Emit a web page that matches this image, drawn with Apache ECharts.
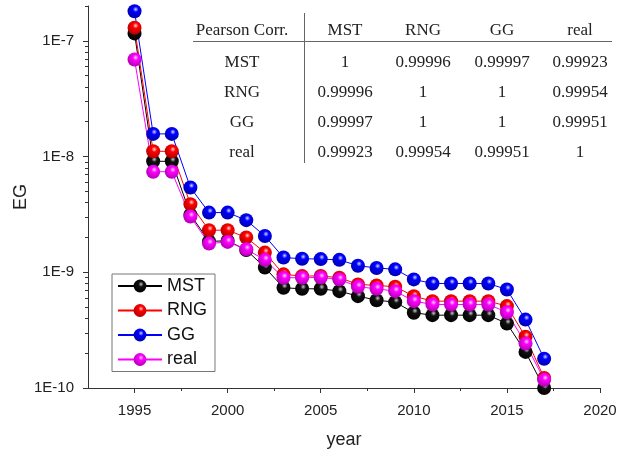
<!DOCTYPE html>
<html>
<head>
<meta charset="utf-8">
<script src="https://cdn.jsdelivr.net/npm/echarts@6/dist/echarts.min.js"></script>
<style>
  html, body { margin: 0; padding: 0; background: #fff; }
  #chart { width: 619px; height: 452px; }
</style>
</head>
<body>
<div id="chart"></div>
<script>
// Years observed
const years = [1995, 1996, 1997, 1998, 1999, 2000, 2001, 2002, 2003, 2004, 2005, 2006,
               2007, 2008, 2009, 2010, 2011, 2012, 2013, 2014, 2015, 2016, 2017];

// EG per network model
const mst  = [1.16e-7, 9.1e-9, 9.1e-9, 3.15e-9, 1.85e-9, 1.87e-9, 1.56e-9, 1.10e-9, 7.35e-10, 7.2e-10, 7.2e-10, 6.87e-10,
              6.22e-10, 5.74e-10, 5.52e-10, 4.47e-10, 4.26e-10, 4.26e-10, 4.26e-10, 4.26e-10, 3.61e-10, 2.05e-10, 1.0e-10];
const rng  = [1.30e-7, 1.11e-8, 1.11e-8, 3.88e-9, 2.31e-9, 2.31e-9, 2.0e-9, 1.48e-9, 9.6e-10, 9.27e-10, 9.3e-10, 8.98e-10,
              7.86e-10, 7.7e-10, 7.5e-10, 6.22e-10, 5.63e-10, 5.63e-10, 5.63e-10, 5.63e-10, 5.1e-10, 2.77e-10, 1.22e-10];
const gg   = [1.80e-7, 1.57e-8, 1.57e-8, 5.4e-9, 3.28e-9, 3.28e-9, 2.82e-9, 2.06e-9, 1.34e-9, 1.31e-9, 1.30e-9, 1.28e-9,
              1.14e-9, 1.09e-9, 1.06e-9, 8.68e-10, 8.0e-10, 8.0e-10, 8.0e-10, 8.0e-10, 7.1e-10, 3.9e-10, 1.79e-10];
const real = [6.9e-8, 7.4e-9, 7.4e-9, 3.03e-9, 1.77e-9, 1.83e-9, 1.58e-9, 1.28e-9, 8.98e-10, 8.98e-10, 9.0e-10, 8.68e-10,
              7.5e-10, 7.2e-10, 6.87e-10, 5.63e-10, 5.27e-10, 5.27e-10, 5.27e-10, 5.27e-10, 4.52e-10, 2.42e-10, 1.18e-10];

// Axis ticks
const xMajorTicks = [1995, 2000, 2005, 2010, 2015, 2020];
const xMinorTicks = [1997.5, 2002.5, 2007.5, 2012.5, 2017.5];
const yMajorTicks = [1e-10, 1e-9, 1e-8, 1e-7];
const yMin = 1e-10, yMax = 2e-7;

// Pearson correlation table
const corrHeader = 'Pearson Corr.';
const corrNames = ['MST', 'RNG', 'GG', 'real'];
const corrValues = [
  ['1', '0.99996', '0.99997', '0.99923'],
  ['0.99996', '1', '1', '0.99954'],
  ['0.99997', '1', '1', '0.99951'],
  ['0.99923', '0.99954', '0.99951', '1']
];

// minor log ticks (2..9 in each decade), expressed as exponents for the
// auxiliary linear tick axis that sits on top of the log axis
const yMinorExp = [];
for (let e = -10; e <= -7; e++) {
  for (let m = 2; m <= 9; m++) {
    const v = m * Math.pow(10, e);
    if (v <= yMax * 1.0001) yMinorExp.push(Math.log10(v));
  }
}

function sphere(light, base, dark) {
  return {
    type: 'radial', x: 0.58, y: 0.36, r: 0.66,
    colorStops: [
      { offset: 0, color: light },
      { offset: 0.3, color: base },
      { offset: 1, color: dark }
    ]
  };
}

const seriesDefs = [
  { name: 'MST', data: mst, line: '#000000', fill: sphere('#c8c8c8', '#111111', '#000000') },
  { name: 'RNG', data: rng, line: '#ff0000', fill: sphere('#ffd6d6', '#ff0000', '#b00000') },
  { name: 'GG', data: gg, line: '#0000ff', fill: sphere('#d6d6ff', '#0000ff', '#0000a8') },
  { name: 'real', data: real, line: '#ff00ff', fill: sphere('#ffd6ff', '#ff00ff', '#b000b0') }
];

const tickFont = { fontFamily: 'Liberation Sans, Arial, sans-serif', fontSize: 15, color: '#222' };
const axisCol = '#333';

// Table graphics
const tFont = '17px "Liberation Serif", serif';
const colX = [242, 345, 423, 502, 580];
const rowY = [31, 63, 93, 123, 153];
const graphics = [];
function cell(txt, x, y) {
  graphics.push({
    type: 'text', x: x, y: y, silent: true,
    style: { text: txt, font: tFont, fill: '#222', align: 'center', verticalAlign: 'middle' }
  });
}
cell(corrHeader, colX[0], rowY[0]);
corrNames.forEach((n, i) => cell(n, colX[i + 1], rowY[0]));
corrNames.forEach((n, r) => {
  cell(n, colX[0], rowY[r + 1]);
  corrValues[r].forEach((v, c) => cell(v, colX[c + 1], rowY[r + 1]));
});
graphics.push({ type: 'line', silent: true, shape: { x1: 193, y1: 41.5, x2: 612, y2: 41.5 }, style: { stroke: '#666', lineWidth: 1 } });
graphics.push({ type: 'line', silent: true, shape: { x1: 304.5, y1: 13, x2: 304.5, y2: 163 }, style: { stroke: '#666', lineWidth: 1 } });

const chart = echarts.init(document.getElementById('chart'), null, { renderer: 'canvas' });
chart.setOption({
  animation: false,
  backgroundColor: '#fff',
  grid: { left: 88, right: 19, top: 6, bottom: 64, outerBoundsMode: 'none' },
  legend: {
    left: 112, top: 274,
    orient: 'vertical',
    itemWidth: 44, itemHeight: 16, itemGap: 6.5,
    padding: [3, 8, 3, 5],
    borderColor: '#777', borderWidth: 1,
    textStyle: { fontFamily: 'Liberation Sans, Arial, sans-serif', fontSize: 18, color: '#111' },
    data: seriesDefs.map(s => s.name)
  },
  xAxis: [
    {
      type: 'value', min: 1992.5, max: 2020, position: 'bottom',
      name: 'year', nameLocation: 'middle', nameGap: 43, nameMoveOverlap: false,
      nameTextStyle: { fontFamily: 'Liberation Sans, Arial, sans-serif', fontSize: 18, color: '#222' },
      axisLine: { show: true, lineStyle: { color: axisCol, width: 1 } },
      axisTick: { show: true, length: 5, lineStyle: { color: axisCol }, customValues: xMajorTicks },
      axisLabel: Object.assign({ margin: 15, customValues: xMajorTicks, formatter: v => String(v) }, tickFont),
      splitLine: { show: false }
    },
    {
      type: 'value', min: 1992.5, max: 2020, position: 'bottom',
      axisLine: { show: false },
      axisTick: { show: true, length: 3, lineStyle: { color: axisCol }, customValues: xMinorTicks },
      axisLabel: { show: false },
      splitLine: { show: false }
    }
  ],
  yAxis: [
    {
      type: 'log', logBase: 10, min: yMin, max: yMax, position: 'left',
      name: 'EG', nameLocation: 'middle', nameGap: 58, nameMoveOverlap: false,
      nameTextStyle: { fontFamily: 'Liberation Sans, Arial, sans-serif', fontSize: 18, color: '#222' },
      axisLine: { show: true, lineStyle: { color: axisCol, width: 1 } },
      axisTick: { show: true, length: 5, lineStyle: { color: axisCol }, customValues: yMajorTicks },
      axisLabel: Object.assign({
        margin: 14, customValues: yMajorTicks,
        formatter: v => '1E' + Math.round(Math.log10(v))
      }, tickFont),
      splitLine: { show: false }
    },
    {
      type: 'value', min: Math.log10(yMin), max: Math.log10(yMax), position: 'left',
      axisLine: { show: false },
      axisTick: { show: true, length: 3, lineStyle: { color: axisCol }, customValues: yMinorExp },
      axisLabel: { show: false },
      splitLine: { show: false }
    }
  ],
  series: seriesDefs.map(s => ({
    name: s.name,
    type: 'line',
    data: years.map((y, i) => [y, s.data[i]]),
    symbol: 'circle',
    symbolSize: 14,
    lineStyle: { color: s.line, width: 1 },
    itemStyle: { color: s.fill, borderWidth: 0 },
    emphasis: { disabled: true },
    z: 2
  })),
  graphic: graphics
});
</script>
</body>
</html>
